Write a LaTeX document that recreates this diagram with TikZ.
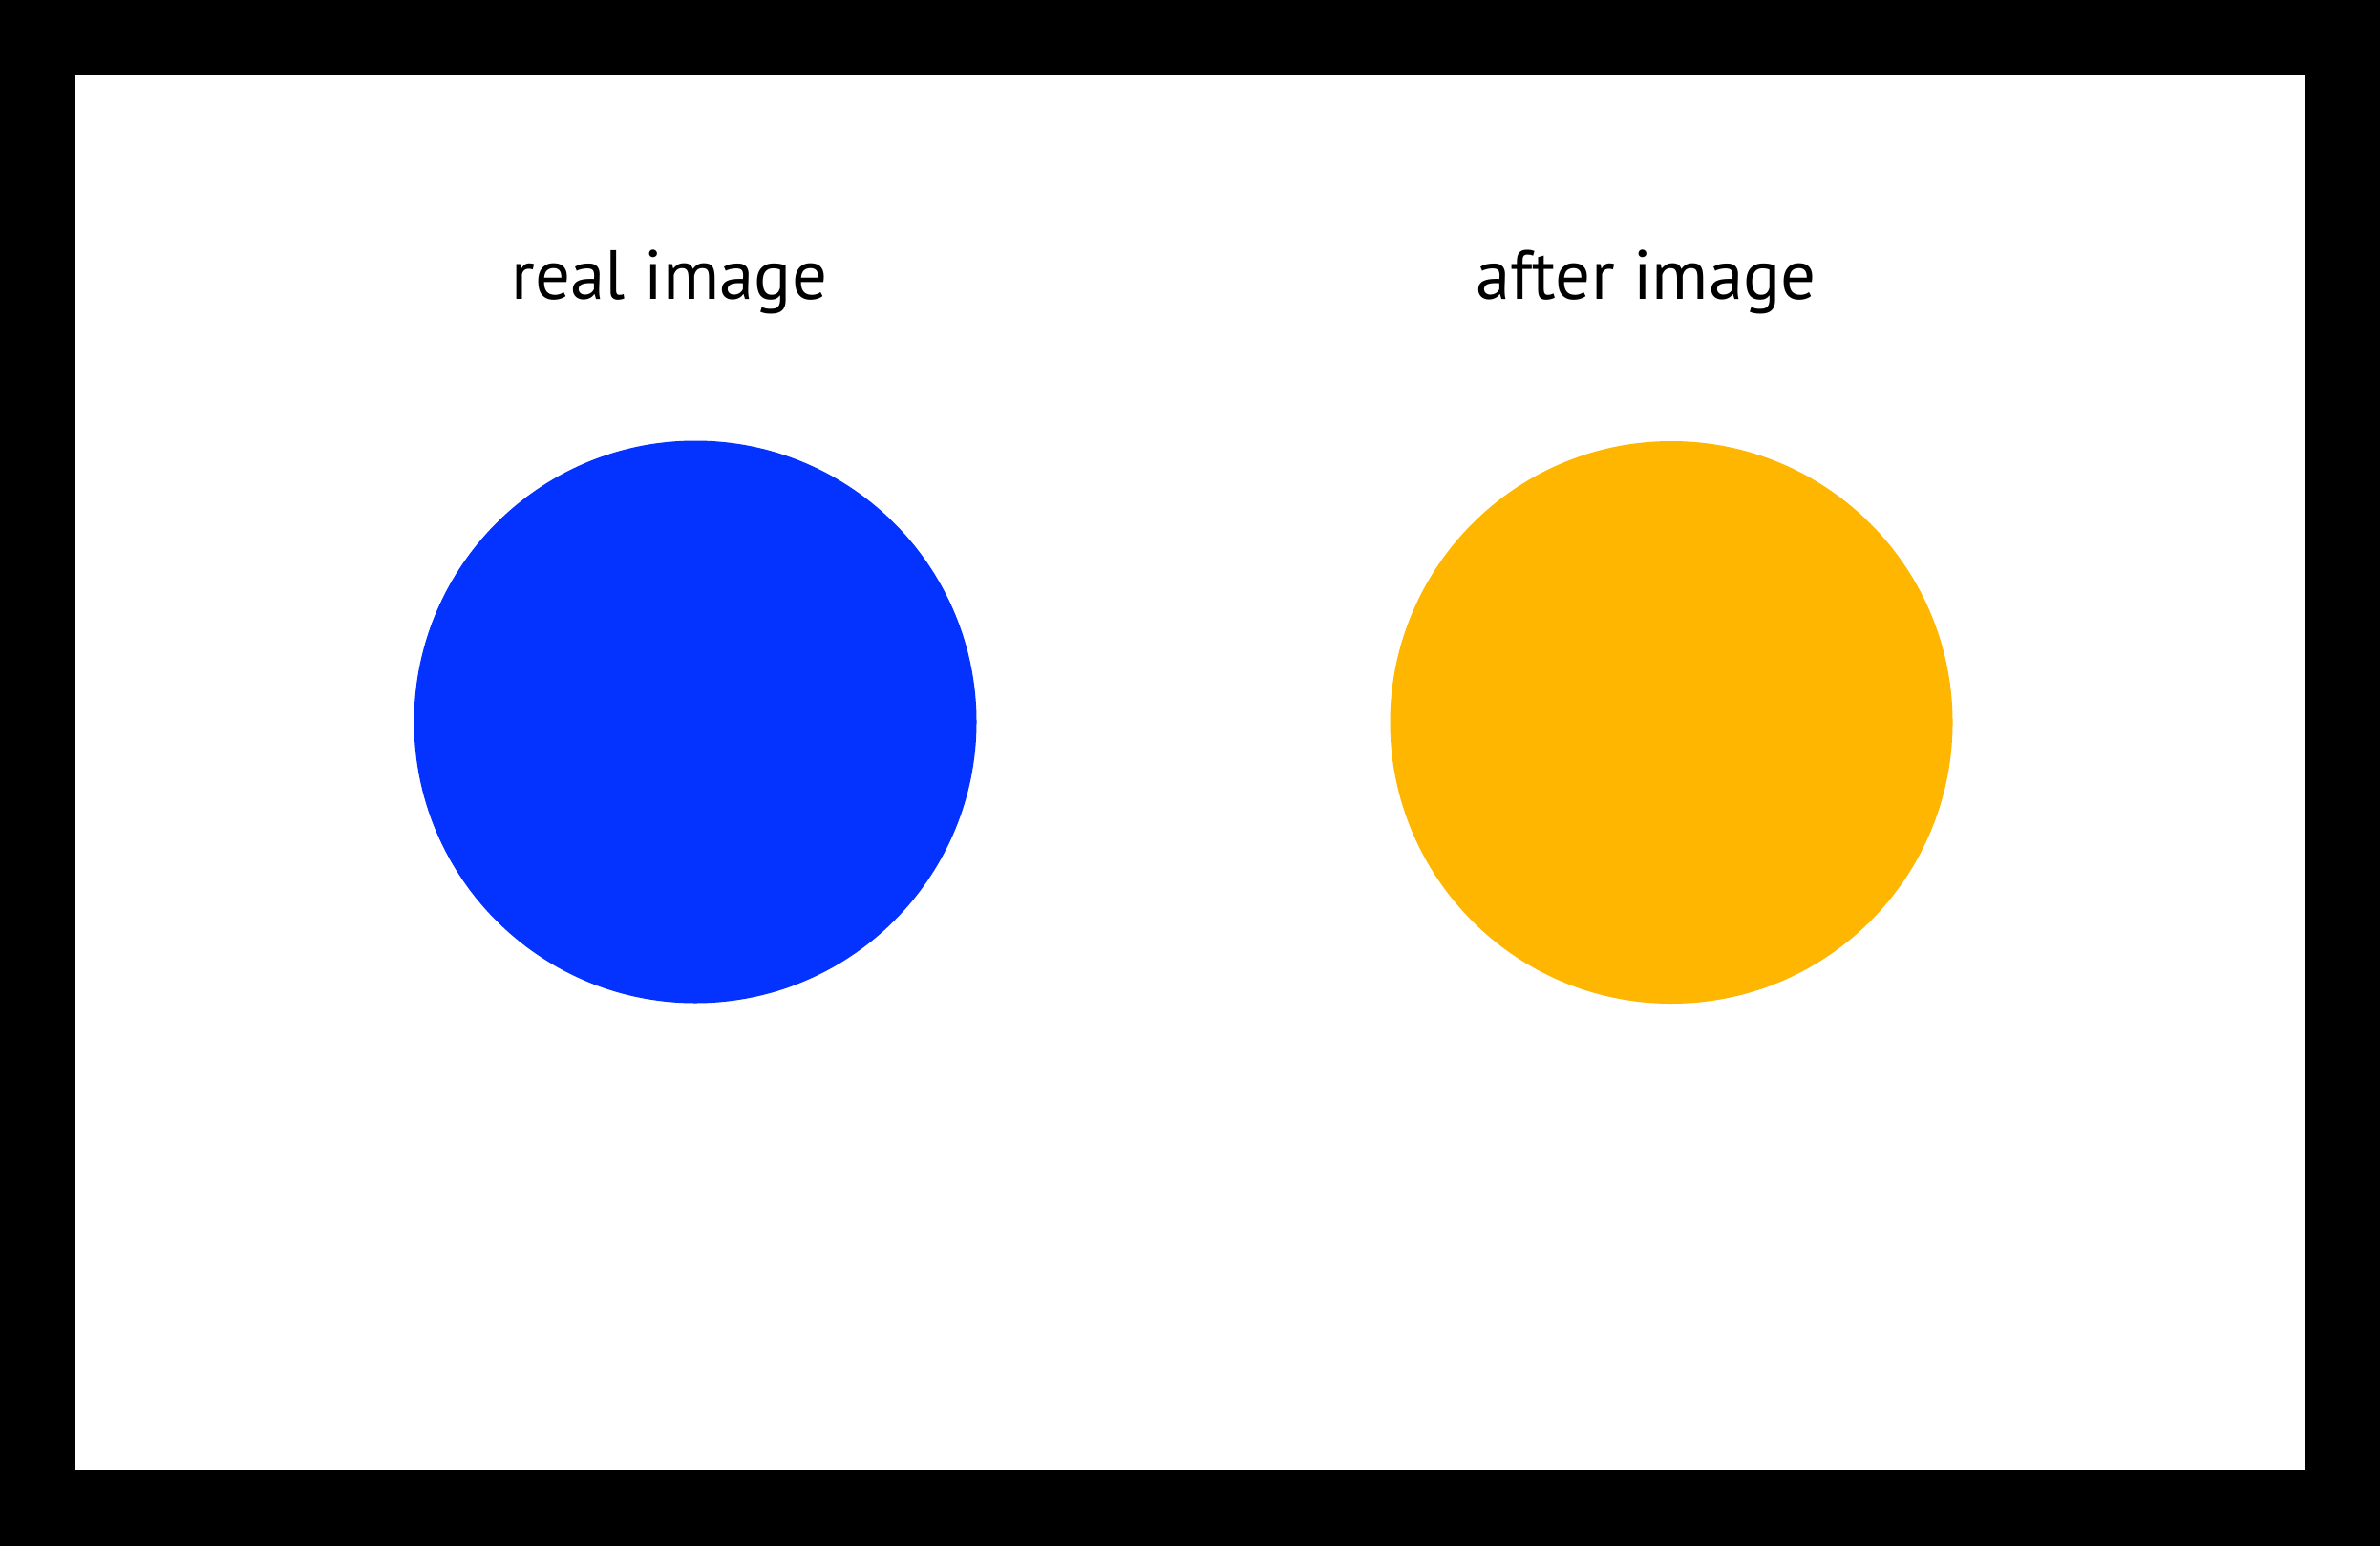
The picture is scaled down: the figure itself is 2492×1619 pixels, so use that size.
\documentclass[tikz,border=0pt]{standalone}
\usepackage{fontspec}
\setmainfont[Ligatures={NoCommon}]{PT Sans}
\definecolor{bluefill}{HTML}{0433FF}
\definecolor{orangefill}{HTML}{FFB600}
\begin{document}
\begin{tikzpicture}[x=1pt,y=-1pt,
  lbl/.style={anchor=base,inner sep=0pt,font=\fontsize{73}{80}\selectfont}]
\fill[black] (0,0) rectangle (2492,1619);
\fill[white] (79,79) rectangle (2413,1539);
\useasboundingbox (0,0) rectangle (2492,1619);
\node[lbl] (t1) at (701,313) {real image};
\node[lbl] (t2) at (1723.5,313) {af\kern0pt ter image};
\fill[bluefill] (728,756) circle[radius=294.5];
\fill[orangefill] (1750,756.5) circle[radius=294.5];
\end{tikzpicture}
\end{document}
